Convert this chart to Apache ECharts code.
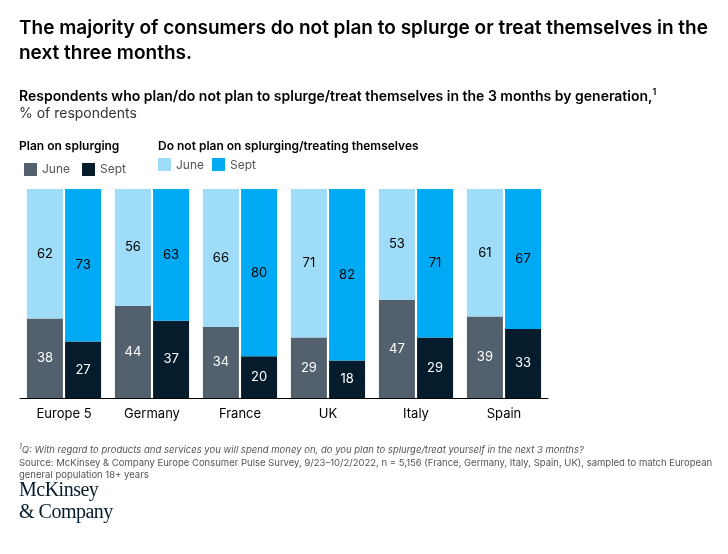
<!DOCTYPE html><html><head><meta charset="utf-8"><script src="https://cdn.jsdelivr.net/npm/echarts@6/dist/echarts.min.js"></script>
<style>body{margin:0;background:#fff;font-family:Inter,"Noto Sans",sans-serif}
#t{position:absolute;left:19px;top:15px;width:700px;font-size:19px;font-weight:600;color:#000;line-height:25px}
#s{position:absolute;left:19px;top:86px;font-size:14px;font-weight:600;color:#000}
#u{position:absolute;left:19px;top:104px;font-size:14px;color:#333}
.lg{position:absolute;font-size:12px;color:#000}
.f{position:absolute;left:19px;font-size:9.5px;color:#555;width:705px;line-height:12px}
#logo{position:absolute;left:19px;top:478px;font-family:"Liberation Serif",serif;font-size:20px;color:#051c2c;line-height:22px;letter-spacing:-0.5px}
#c{position:absolute;left:0;top:0;width:728px;height:554px}
</style></head><body>
<div id="c"></div>
<div id="t">The majority of consumers do not plan to splurge or treat themselves in the next three months.</div>
<div id="s">Respondents who plan/do not plan to splurge/treat themselves in the 3 months by generation,<sup style="font-size:9px">1</sup></div>
<div id="u">% of respondents</div>
<div class="lg" style="left:19px;top:138px;font-weight:600">Plan on splurging</div>
<div class="lg" style="left:158px;top:138px;font-weight:600">Do not plan on splurging/treating themselves</div>
<div class="f" style="top:444px;font-style:italic"><sup style="font-size:7px;line-height:0">1</sup>Q: With regard to products and services you will spend money on, do you plan to splurge/treat yourself in the next 3 months?</div>
<div class="f" style="top:457px">Source: McKinsey &amp; Company Europe Consumer Pulse Survey, 9/23–10/2/2022, n = 5,156 (France, Germany, Italy, Spain, UK), sampled to match European general population 18+ years</div>
<div id="logo">McKinsey<br>&amp; Company</div>
<script>
const categories=["Europe 5","Germany","France","UK","Italy","Spain"];
const planJune=[38,44,34,29,47,39];
const planSept=[27,37,20,18,29,33];
const notJune=[62,56,66,71,53,61];
const notSept=[73,63,80,82,71,67];
const ch=echarts.init(document.getElementById('c'));
const lab=(c)=>({show:true,position:'inside',color:c,fontSize:13,fontFamily:'Inter'});
ch.setOption({animation:false,
legend:{left:19,top:158,itemWidth:13,itemHeight:13,itemGap:12,icon:'rect',textStyle:{fontSize:12,color:'#555',fontFamily:'Inter'},
 data:['June','Sept']},
grid:{left:20,right:180,top:189,bottom:156},
xAxis:{type:'category',data:categories,axisTick:{show:false},axisLine:{lineStyle:{color:'#000'}},axisLabel:{color:'#000',fontSize:13,margin:10,fontFamily:'Inter'}},
yAxis:{type:'value',min:0,max:100,show:false},
series:[
{name:'June',type:'bar',stack:'j',data:planJune,barWidth:36,barGap:'6%',itemStyle:{color:'#52616d'},label:lab('#fff')},
{name:'June',type:'bar',stack:'j',data:notJune,itemStyle:{color:'#9fdcf8'},label:lab('#000')},
{name:'Sept',type:'bar',stack:'s',data:planSept,barWidth:36,itemStyle:{color:'#051c2c'},label:lab('#fff')},
{name:'Sept',type:'bar',stack:'s',data:notSept,itemStyle:{color:'#00a9f4'},label:lab('#000')}
]});
ch.setOption({graphic:[
{type:'rect',left:158,top:158,shape:{width:13,height:13},style:{fill:'#9fdcf8'}},
{type:'text',left:176,top:159,style:{text:'June',fontSize:12,fill:'#555',fontFamily:'Inter'}},
{type:'rect',left:212,top:158,shape:{width:13,height:13},style:{fill:'#00a9f4'}},
{type:'text',left:230,top:159,style:{text:'Sept',fontSize:12,fill:'#555',fontFamily:'Inter'}}
]});
</script></body></html>
